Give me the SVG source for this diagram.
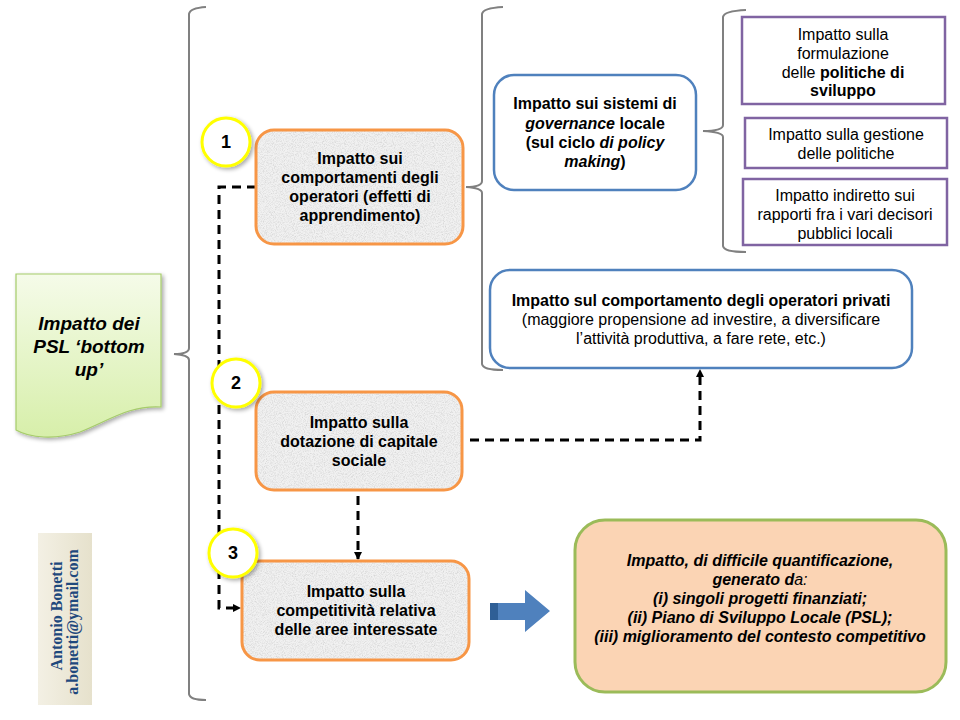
<svg xmlns="http://www.w3.org/2000/svg" width="960" height="720" viewBox="0 0 960 720">
<defs>
<style>
text{font-family:"Liberation Sans",Arial,sans-serif;fill:#000;}
.t{font-size:16px;text-anchor:middle;}
.b{font-weight:bold;}
.i{font-style:italic;}
.brace{fill:none;stroke:#808080;stroke-width:2;}
.dash{fill:none;stroke:#000;stroke-width:3;stroke-dasharray:9,6;}
.orange{fill:none;stroke:#f79646;stroke-width:3;}
.texfill{fill:#f1f1f1;}
.blue{fill:#fff;stroke:#4f81bd;stroke-width:2.5;}
.purple{fill:#fff;stroke:#8064a2;stroke-width:2.5;}
.circ{fill:#fff;stroke:#ffff00;stroke-width:3;}
.num{font-size:18px;font-weight:bold;text-anchor:middle;}
.auth{font-family:"Liberation Serif","Times New Roman",serif;font-size:16px;font-weight:bold;fill:#1f497d;text-anchor:middle;}
</style>
<linearGradient id="green" x1="0" y1="0" x2="0" y2="1">
<stop offset="0" stop-color="#f5fbe9"/>
<stop offset="1" stop-color="#d7efaa"/>
</linearGradient>
<linearGradient id="beige" x1="0" y1="0" x2="1" y2="0">
<stop offset="0" stop-color="#f3f0e4"/>
<stop offset="1" stop-color="#e6e1cc"/>
</linearGradient>
<filter id="tex" x="0" y="0" width="100%" height="100%">
<feTurbulence type="fractalNoise" baseFrequency="1.1" numOctaves="2" seed="3" result="n"/>
<feColorMatrix in="n" type="matrix" values="0 0 0 0 0.6  0 0 0 0 0.6  0 0 0 0 0.6  0 0 0 1.6 -0.65" result="g"/>
<feComposite in="g" in2="SourceAlpha" operator="in" result="gm"/>
<feMerge><feMergeNode in="SourceGraphic"/><feMergeNode in="gm"/></feMerge>
</filter>
<filter id="sh" x="-20%" y="-20%" width="140%" height="140%">
<feGaussianBlur in="SourceAlpha" stdDeviation="2"/>
<feOffset dx="2" dy="2" result="o"/>
<feComponentTransfer><feFuncA type="linear" slope="0.35"/></feComponentTransfer>
<feMerge><feMergeNode/><feMergeNode in="SourceGraphic"/></feMerge>
</filter>
<marker id="ah" markerWidth="8" markerHeight="8" refX="7" refY="4" orient="auto" markerUnits="userSpaceOnUse">
<path d="M0,0 L8,4 L0,8 Z" fill="#000"/>
</marker>
</defs>
<rect width="960" height="720" fill="#fff"/>

<g id="braces">
<path class="brace" d="M206,7 Q190,8 189,14 V348 Q189,354 174,354 Q189,355 189,360 V694 Q190,700 206,700"/>
<path class="brace" d="M503,7 Q483,8 482,14 V181 Q482,187 466,187 Q482,188 482,193 V364 Q483,370 503,370"/>
<path class="brace" d="M746,10 Q724,11 723,17 V125 Q723,131 703,131 Q723,132 723,137 V246 Q724,252 746,252"/>
</g>

<g id="connectors">
<path class="dash" d="M256,187 H219 V608 H240" marker-end="url(#ah)"/>
<path class="dash" d="M470,440 H700 V370" marker-end="url(#ah)"/>
<path class="dash" d="M358,496 V559" marker-end="url(#ah)"/>
</g>

<g id="psl">
<path d="M16,274 H161 V407 C130,405 110,420 80,432 C55,440 30,438 16,430 Z" fill="url(#green)" stroke="#a6cc6a" stroke-width="1.2" filter="url(#sh)"/>
<text class="t b i" style="font-size:19px" x="89" y="330">Impatto dei</text>
<text class="t b i" style="font-size:19px" x="89" y="353">PSL ‘bottom</text>
<text class="t b i" style="font-size:19px" x="89" y="376">up’</text>
</g>

<g id="node1">
<rect x="256" y="130" width="207" height="114" rx="18" class="texfill" filter="url(#tex)"/>
<rect x="256" y="130" width="207" height="114" rx="18" class="orange"/>
<text class="t b" x="360" y="164">Impatto sui</text>
<text class="t b" x="360" y="183">comportamenti degli</text>
<text class="t b" x="360" y="202">operatori (effetti di</text>
<text class="t b" x="360" y="221">apprendimento)</text>
</g>
<g id="circle1">
<circle cx="226" cy="142" r="24" class="circ" filter="url(#sh)"/>
<text class="num" x="226" y="148">1</text>
</g>

<g id="node2">
<rect x="256" y="392" width="206" height="98" rx="18" class="texfill" filter="url(#tex)"/>
<rect x="256" y="392" width="206" height="98" rx="18" class="orange"/>
<text class="t b" x="359" y="428">Impatto sulla</text>
<text class="t b" x="359" y="447">dotazione di capitale</text>
<text class="t b" x="359" y="466">sociale</text>
</g>
<g id="circle2">
<circle cx="236" cy="383" r="24" class="circ" filter="url(#sh)"/>
<text class="num" x="236" y="389">2</text>
</g>

<g id="node3">
<rect x="242" y="561" width="227" height="99" rx="18" class="texfill" filter="url(#tex)"/>
<rect x="242" y="561" width="227" height="99" rx="18" class="orange"/>
<text class="t b" x="356" y="597">Impatto sulla</text>
<text class="t b" x="356" y="616">competitività relativa</text>
<text class="t b" x="356" y="635">delle aree interessate</text>
</g>
<g id="circle3">
<circle cx="233" cy="553" r="24" class="circ" filter="url(#sh)"/>
<text class="num" x="233" y="559">3</text>
</g>

<g id="governance">
<rect x="494" y="75" width="202" height="115" rx="20" class="blue"/>
<text class="t b" x="595" y="109">Impatto sui sistemi di</text>
<text class="t b" x="595" y="129"><tspan class="i">governance</tspan> locale</text>
<text class="t b" x="595" y="148">(sul ciclo <tspan class="i">di policy</tspan></text>
<text class="t b" x="595" y="167"><tspan class="i">making</tspan>)</text>
</g>

<g id="private">
<rect x="490" y="270" width="422" height="98" rx="20" class="blue"/>
<text class="t b" x="701" y="306">Impatto sul comportamento degli operatori privati</text>
<text class="t" x="701" y="325">(maggiore propensione ad investire, a diversificare</text>
<text class="t" x="701" y="344">l’attività produttiva, a fare rete, etc.)</text>
</g>

<g id="boxA">
<rect x="742" y="17" width="203" height="87" class="purple"/>
<text class="t" x="843" y="40">Impatto sulla</text>
<text class="t" x="843" y="59">formulazione</text>
<text class="t" x="843" y="78">delle <tspan class="b">politiche di</tspan></text>
<text class="t b" x="843" y="96">sviluppo</text>
</g>
<g id="boxB">
<rect x="745" y="118" width="202" height="50" class="purple"/>
<text class="t" x="846" y="140">Impatto sulla gestione</text>
<text class="t" x="846" y="159">delle politiche</text>
</g>
<g id="boxC">
<rect x="743" y="179" width="204" height="66" class="purple"/>
<text class="t" x="845" y="201">Impatto indiretto sui</text>
<text class="t" x="845" y="220">rapporti fra i vari decisori</text>
<text class="t" x="845" y="239">pubblici locali</text>
</g>

<g id="arrow">
<path d="M490,603 H525 V590 L550,611 L525,632 V620 H490 Z" fill="#4f81bd"/>
<path d="M490,603 H498 V620 H490 Z" fill="#2f5f96"/>
</g>

<g id="result">
<rect x="575" y="520" width="371" height="172" rx="30" fill="#fbd4b4" stroke="#9bbb59" stroke-width="3"/>
<text class="t b i" x="760" y="566">Impatto, di difficile quantificazione,</text>
<text class="t b i" x="760" y="585">generato d<tspan font-weight="normal">a:</tspan></text>
<text class="t b i" x="760" y="604">(i) singoli progetti finanziati;</text>
<text class="t b i" x="760" y="623">(ii) Piano di Sviluppo Locale (PSL);</text>
<text class="t b i" x="760" y="642">(iii) miglioramento del contesto competitivo</text>
</g>

<g id="author">
<rect x="38" y="533" width="54" height="172" fill="url(#beige)"/>
<text class="auth" transform="translate(62,616) rotate(-90)">Antonio Bonetti</text>
<text class="auth" transform="translate(78,622) rotate(-90)">a.bonetti@ymail.com</text>
</g>
</svg>
